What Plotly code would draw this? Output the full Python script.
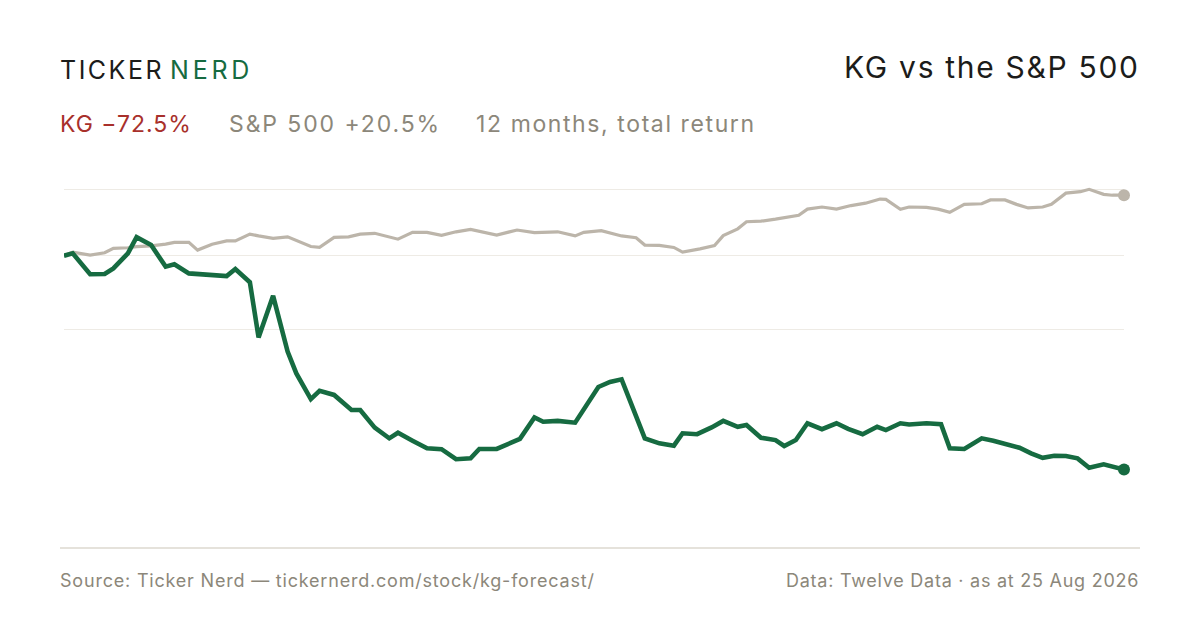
import pandas as pd
import plotly.graph_objects as go

# KG vs S&P 500, indexed to 100 at the start (12 months, total return)
start_date = "2025-08-25"

kg_days = [0, 3, 9, 14, 17, 22, 25, 30, 35, 38, 43, 47, 51, 56, 59, 64, 67, 72, 77, 80,
           85, 88, 93, 99, 102, 107, 112, 115, 120, 125, 130, 135, 140, 143, 149, 154, 157,
           162, 165, 170, 176, 184, 188, 192, 200, 205, 210, 213, 218, 223, 227, 232, 235,
           240, 245, 248, 252, 256, 261, 266, 270, 275, 280, 283, 288, 291, 297, 302, 305,
           310, 316, 320, 325, 329, 333, 337, 341, 345, 349, 353, 358, 362, 365]
kg_index = [100.0, 100.8, 93.7, 93.8, 95.7, 100.8, 106.3, 103.6, 96.3, 97.1, 94.0, 93.7,
            93.1, 93.1, 95.5, 91.0, 72.3, 86.4, 67.5, 60.1, 51.4, 54.2, 52.8, 47.7, 47.7,
            41.7, 38.1, 40.0, 37.3, 34.7, 34.4, 31.0, 31.3, 34.5, 34.5, 36.7, 37.9, 45.2,
            43.7, 44.0, 43.4, 55.5, 57.2, 58.1, 38.1, 36.4, 35.6, 39.8, 39.5, 41.8, 44.0,
            42.0, 42.6, 38.3, 37.5, 35.5, 37.5, 43.2, 41.2, 43.2, 41.3, 39.5, 42.0, 40.9,
            43.2, 42.8, 43.2, 42.9, 34.7, 34.5, 38.1, 37.3, 35.8, 34.9, 33.0, 31.5, 32.2,
            32.1, 31.3, 28.1, 29.3, 28.1, 27.5]

spx_days = [0, 3, 9, 14, 17, 22, 25, 30, 35, 38, 43, 46, 51, 56, 59, 64, 67, 72, 77, 82,
            85, 88, 93, 98, 102, 107, 115, 120, 125, 130, 135, 140, 149, 156, 162, 170, 176,
            179, 185, 192, 197, 200, 205, 210, 213, 219, 224, 227, 232, 235, 240, 245, 253,
            256, 261, 266, 271, 276, 281, 283, 288, 291, 297, 301, 305, 310, 316, 319, 324,
            328, 332, 337, 340, 345, 350, 353, 358, 361, 365]
spx_index = [100.0, 101.2, 100.2, 101.0, 102.5, 102.7, 103.1, 103.3, 103.9, 104.5, 104.5,
             101.9, 103.9, 105.0, 105.0, 107.3, 106.7, 105.9, 106.4, 104.2, 103.1, 102.8,
             106.2, 106.4, 107.3, 107.6, 105.6, 107.9, 107.9, 106.9, 108.1, 108.9, 107.0,
             108.7, 107.8, 108.1, 106.7, 107.9, 108.5, 106.7, 106.1, 103.6, 103.5, 102.8,
             101.2, 102.3, 103.4, 106.8, 109.1, 111.5, 111.7, 112.4, 113.7, 115.8, 116.5,
             115.8, 117.0, 117.8, 119.2, 119.1, 115.7, 116.5, 116.4, 115.8, 114.7, 117.4,
             117.6, 118.9, 118.9, 117.4, 116.2, 116.5, 117.4, 121.2, 121.7, 122.5, 120.8,
             120.5, 120.5]

grid_values = [75, 100, 122.5]

GREEN = "#166b41"
GREY_LINE = "#bcb5aa"
RED = "#a8302b"
MUTED = "#8c877a"
INK = "#1c1c1a"
FONT = "Inter"

t0 = pd.Timestamp(start_date)
kg_dates = [t0 + pd.Timedelta(days=d) for d in kg_days]
spx_dates = [t0 + pd.Timedelta(days=d) for d in spx_days]

fig = go.Figure()

fig.add_trace(go.Scatter(
    x=spx_dates, y=spx_index, mode="lines",
    line=dict(color=GREY_LINE, width=3.2), hoverinfo="skip"
))
fig.add_trace(go.Scatter(
    x=kg_dates, y=kg_index, mode="lines",
    line=dict(color=GREEN, width=4.6), hoverinfo="skip"
))
# end dots
fig.add_trace(go.Scatter(
    x=[spx_dates[-1]], y=[spx_index[-1]], mode="markers", cliponaxis=False,
    marker=dict(color=GREY_LINE, size=12), hoverinfo="skip"
))
fig.add_trace(go.Scatter(
    x=[kg_dates[-1]], y=[kg_index[-1]], mode="markers", cliponaxis=False,
    marker=dict(color=GREEN, size=12), hoverinfo="skip"
))

# plot area: x 64..1124 px, y 170..540 px
L, R, T, B = 64, 76, 170, 90
W, H = 1200, 630
pw, ph = W - L - R, H - T - B

def px(x):
    return (x - L) / pw

def py(y):
    return (H - B - y) / ph

def label(x, y, text, size, color, anchor="left", track=0):
    if track:
        text = f"<span style='letter-spacing:{track}px'>{text}</span>"
        if anchor == "right":
            x += track
    # annotation box adds a little padding around the text
    x += 2 if anchor == "right" else -2
    fig.add_annotation(x=px(x), y=py(y), xref="paper", yref="paper", text=text,
                       showarrow=False, font=dict(family=FONT, size=size, color=color),
                       xanchor=anchor, yanchor="middle")

# logo
label(60, 70, "TICKER", 25, INK, track=2.5)
label(170, 70, "NERD", 25, GREEN, track=3.8)
# title
label(1138, 67, "KG vs the S&amp;P 500", 30, INK, "right", track=1.7)
# subtitle
label(60, 124, "KG \u221272.5%", 23, RED, track=1.0)
label(229, 124, "S&amp;P 500 +20.5%", 23, MUTED, track=1.9)
label(476, 124, "12 months, total return", 23, MUTED, track=1.6)
# footer
label(60, 580, "Source: Ticker Nerd \u2014 tickernerd.com/stock/kg-forecast/", 18, MUTED, track=0.8)
label(1138, 580, "Data: Twelve Data \u00b7 as at 25 Aug 2026", 18, MUTED, "right", track=0.75)

# bottom rule
fig.add_shape(type="line", xref="paper", yref="paper",
              x0=px(60), x1=px(1140), y0=py(548), y1=py(548),
              line=dict(color="#dcd8cf", width=1.5))

fig.update_layout(
    width=W, height=H,
    margin=dict(l=L, r=R, t=T, b=B),
    paper_bgcolor="white", plot_bgcolor="white",
    showlegend=False,
    xaxis=dict(range=[kg_dates[0], kg_dates[-1]], visible=False, showgrid=False,
               zeroline=False),
    yaxis=dict(range=[3.63, 129.05], tickvals=grid_values, showticklabels=False,
               showgrid=True, gridcolor="#eeebe5", gridwidth=1, zeroline=False,
               showline=False, ticks=""),
)

fig.write_html("out.html", config={"displayModeBar": False},
               post_script="document.body.style.margin='0';")
